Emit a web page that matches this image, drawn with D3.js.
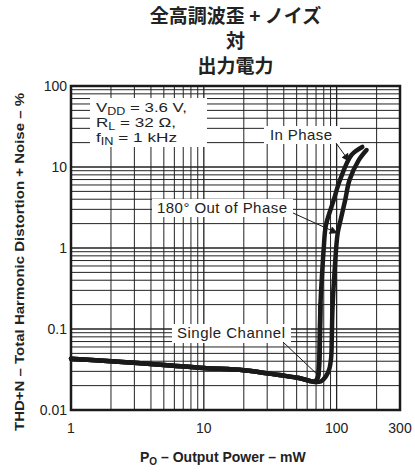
<!DOCTYPE html>
<html>
<head>
<meta charset="utf-8">
<script src="https://cdn.jsdelivr.net/npm/d3@7/dist/d3.min.js"></script>
<style>
  html, body { margin: 0; padding: 0; background: #fff; }
  svg { display: block; font-family: "Liberation Sans", Arial, sans-serif; }
</style>
</head>
<body>
<div id="chart"></div>
<script>
// Output power (mW) and THD+N (%) for each operating mode
const singleX = [1, 2, 5, 10, 20, 37, 52, 62, 68, 72, 74, 75, 75.5];
const singleY = [0.043, 0.040, 0.036, 0.033, 0.031, 0.027, 0.0248, 0.023, 0.0224, 0.025, 0.04, 0.09, 0.2];

const inPhaseX = [1, 2, 5, 10, 20, 37, 52, 62, 68, 72, 74, 75, 76, 78, 80, 83, 95, 106, 129.5, 156];
const inPhaseY = [0.043, 0.040, 0.036, 0.033, 0.031, 0.027, 0.0248, 0.023, 0.0224, 0.025, 0.04, 0.12, 0.25, 0.53, 1.0, 1.9, 3.9, 6.9, 14.1, 17.7];

const outPhaseX = [1, 2, 5, 10, 20, 37, 52, 62, 68, 76, 83, 88, 91, 92, 93, 96.6, 101.7, 107, 116, 125, 146, 168];
const outPhaseY = [0.043, 0.040, 0.036, 0.033, 0.031, 0.027, 0.0248, 0.023, 0.0222, 0.0225, 0.026, 0.032, 0.045, 0.08, 0.17, 0.53, 1.5, 2.2, 3.9, 6.9, 12, 16.2];

const xTickValues = [1, 10, 100, 300];
const xTickLabels = ["1", "10", "100", "300"];
const yTickValues = [0.01, 0.1, 1, 10, 100];
const yTickLabels = ["0.01", "0.1", "1", "10", "100"];

const titleLines = ["全高調波歪 + ノイズ", "対", "出力電力"];

const W = 415, H = 472;
const m = { left: 71, right: 15, top: 86, bottom: 62 };
const pw = W - m.left - m.right, ph = H - m.top - m.bottom;

const svg = d3.select("#chart").append("svg").attr("width", W).attr("height", H);

const x = d3.scaleLog().domain([1, 300]).range([m.left, m.left + pw]);
const y = d3.scaleLog().domain([0.01, 100]).range([m.top + ph, m.top]);

// Title
svg.append("g").selectAll("text").data(titleLines).join("text")
  .attr("x", m.left + pw / 2)
  .attr("y", (d, i) => 23 + i * 25)
  .attr("text-anchor", "middle")
  .attr("font-family", "'Noto Sans CJK JP', 'Noto Sans CJK SC', sans-serif")
  .attr("font-weight", "bold")
  .attr("font-size", 19)
  .attr("fill", "#222")
  .text(d => d);

// Grid lines
const grid = svg.append("g");
const xMinor = [];
for (let dec = 1; dec <= 100; dec *= 10) {
  for (let k = 1; k <= 9; k++) { const v = k * dec; if (v > 1 && v < 300) xMinor.push(v); }
}
const yMinor = [];
for (let dec = 0.01; dec < 100; dec *= 10) {
  for (let k = 1; k <= 9; k++) { const v = +(k * dec).toPrecision(3); if (v > 0.01 && v < 100) yMinor.push(v); }
}
grid.selectAll("line.vx").data(xMinor).join("line")
  .attr("x1", d => x(d)).attr("x2", d => x(d))
  .attr("y1", m.top).attr("y2", m.top + ph)
  .attr("stroke", "#222").attr("stroke-width", d => [10, 100].includes(d) ? 1.3 : 1);
grid.selectAll("line.hy").data(yMinor).join("line")
  .attr("y1", d => y(d)).attr("y2", d => y(d))
  .attr("x1", m.left).attr("x2", m.left + pw)
  .attr("stroke", "#222").attr("stroke-width", d => [0.1, 1, 10].includes(d) ? 1.3 : 1);

// White backgrounds behind the annotations
const boxes = svg.append("g").attr("fill", "#fff");
boxes.append("rect").attr("x", 90).attr("y", 98).attr("width", 117).attr("height", 49);
boxes.append("rect").attr("x", 264).attr("y", 126).attr("width", 76).attr("height", 18);
boxes.append("rect").attr("x", 152).attr("y", 199).attr("width", 141).attr("height", 18);
boxes.append("rect").attr("x", 172).attr("y", 324).attr("width", 119).attr("height", 19);

// Curves
const line = d3.line().x(d => x(d[0])).y(d => y(d[1])).curve(d3.curveCatmullRom.alpha(0.5));
const series = [
  d3.zip(singleX, singleY),
  d3.zip(inPhaseX, inPhaseY),
  d3.zip(outPhaseX, outPhaseY)
];
svg.append("g").selectAll("path").data(series).join("path")
  .attr("d", line)
  .attr("fill", "none")
  .attr("stroke", "#1a1a1a")
  .attr("stroke-width", 4.5)
  .attr("stroke-linejoin", "round")
  .attr("stroke-linecap", "round");

// Frame
svg.append("rect").attr("x", m.left).attr("y", m.top).attr("width", pw).attr("height", ph)
  .attr("fill", "none").attr("stroke", "#1a1a1a").attr("stroke-width", 2.5);

// Tick labels
svg.append("g").selectAll("text").data(xTickValues).join("text")
  .attr("x", d => x(d)).attr("y", m.top + ph + 23)
  .attr("text-anchor", "middle").attr("font-size", 14).attr("fill", "#222")
  .text((d, i) => xTickLabels[i]);
svg.append("g").selectAll("text").data(yTickValues).join("text")
  .attr("x", m.left - 4).attr("y", d => y(d) + 5)
  .attr("text-anchor", "end").attr("font-size", 14).attr("fill", "#222")
  .text((d, i) => yTickLabels[i]);

// Axis titles
const xt = svg.append("text").attr("x", 140).attr("y", 462)
  .attr("font-size", 14).attr("font-weight", "bold").attr("fill", "#222");
xt.append("tspan").text("P");
xt.append("tspan").attr("font-size", 10).attr("dy", 3).text("O");
xt.append("tspan").attr("dy", -3).text(" – Output Power – mW");

svg.append("text")
  .attr("transform", "translate(24,262) rotate(-90)")
  .attr("text-anchor", "middle").attr("font-size", 13.5).attr("font-weight", "bold").attr("fill", "#222")
  .attr("textLength", 338).attr("lengthAdjust", "spacingAndGlyphs")
  .text("THD+N – Total Harmonic Distortion + Noise – %");

// Conditions block
const cond = svg.append("g").attr("font-size", 13.5).attr("fill", "#222");
const condLines = [["V", "DD", " = 3.6 V,", 91], ["R", "L", " = 32 Ω,", 80], ["f", "IN", " = 1 kHz", 81]];
condLines.forEach((c, i) => {
  const t = cond.append("text").attr("x", 96).attr("y", 112 + i * 15)
    .attr("textLength", c[3]).attr("lengthAdjust", "spacingAndGlyphs");
  t.append("tspan").text(c[0]);
  t.append("tspan").attr("font-size", 10).attr("dy", 2.5).text(c[1]);
  t.append("tspan").attr("dy", -2.5).text(c[2]);
});

// Curve labels and leaders
const lab = svg.append("g").attr("font-size", 15).attr("fill", "#222").attr("lengthAdjust", "spacingAndGlyphs");
lab.append("text").attr("x", 270).attr("y", 140).attr("textLength", 62).text("In Phase");
lab.append("text").attr("x", 157).attr("y", 213).attr("textLength", 130).text("180° Out of Phase");
lab.append("text").attr("x", 177).attr("y", 338).attr("textLength", 108).text("Single Channel");

const defs = svg.append("defs");
defs.append("marker").attr("id", "ah").attr("viewBox", "0 0 10 10")
  .attr("refX", 9).attr("refY", 5).attr("markerWidth", 11).attr("markerHeight", 8)
  .attr("markerUnits", "userSpaceOnUse").attr("orient", "auto")
  .append("path").attr("d", "M0,0 L10,5 L0,10 Z").attr("fill", "#1a1a1a");

const leaders = svg.append("g").attr("stroke", "#1a1a1a").attr("stroke-width", 1);
leaders.append("line").attr("x1", 336).attr("y1", 143).attr("x2", 349).attr("y2", 161).attr("marker-end", "url(#ah)");
leaders.append("line").attr("x1", 293).attr("y1", 213).attr("x2", 337).attr("y2", 233).attr("marker-end", "url(#ah)");
leaders.append("line").attr("x1", 283).attr("y1", 342).attr("x2", 320).attr("y2", 377);
</script>
</body>
</html>
